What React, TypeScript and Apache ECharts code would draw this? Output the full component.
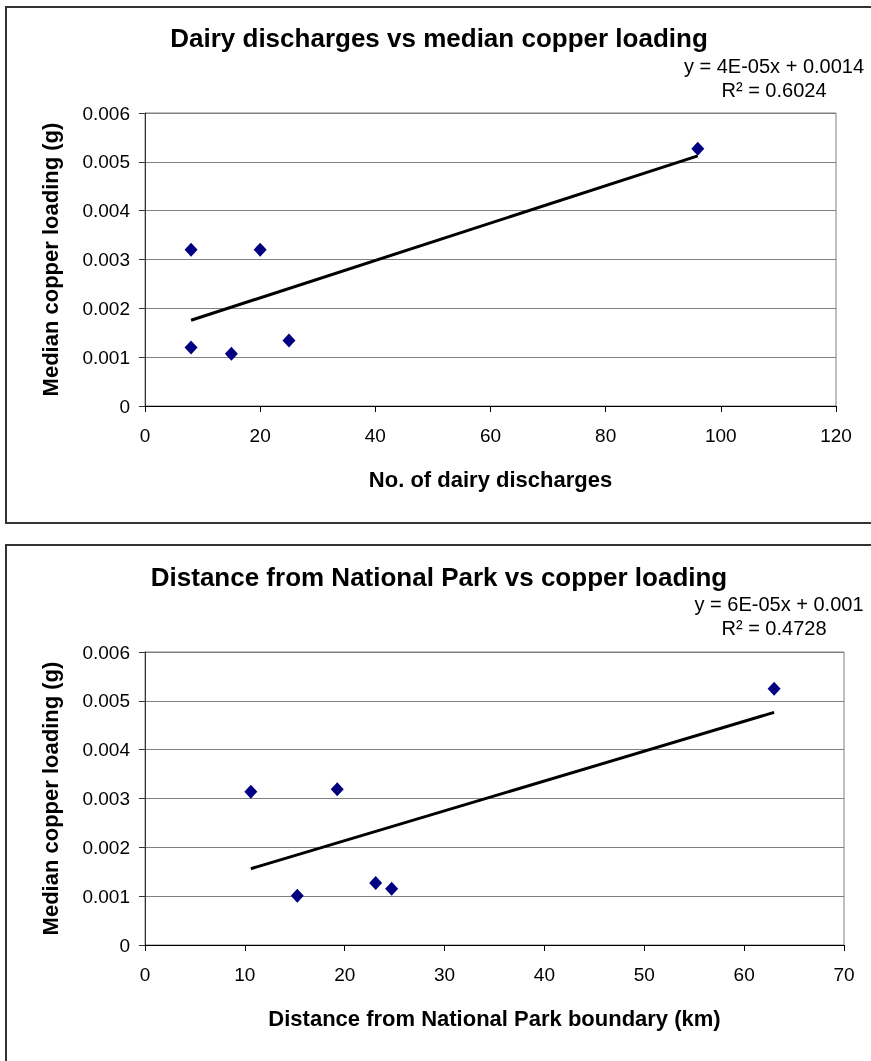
import React, { useEffect, useRef } from "react";
import * as echarts from "echarts";

// ---- Data ----
const dairyDischarges = [8, 8, 15, 20, 25, 96];
const dairyCopper = [0.0032, 0.0012, 0.00107, 0.0032, 0.00134, 0.00527];

const parkDistance = [10.6, 15.25, 19.25, 23.1, 24.7, 63];
const parkCopper = [0.00314, 0.00101, 0.00319, 0.00127, 0.00115, 0.00525];

const topTitle = "Dairy discharges vs median copper loading";
const topEquation = "y = 4E-05x + 0.0014";
const topR2 = "R² = 0.6024";
const topXName = "No. of dairy discharges";

const bottomTitle = "Distance from National Park vs copper loading";
const bottomEquation = "y = 6E-05x + 0.001";
const bottomR2 = "R² = 0.4728";
const bottomXName = "Distance from National Park boundary (km)";

const yName = "Median copper loading (g)";

// least-squares trendline (Excel "linear trendline") across the data range
function trend(xs: number[], ys: number[]) {
  const n = xs.length;
  const mx = xs.reduce((a, b) => a + b, 0) / n;
  const my = ys.reduce((a, b) => a + b, 0) / n;
  let sxy = 0;
  let sxx = 0;
  for (let i = 0; i < n; i++) {
    sxy += (xs[i] - mx) * (ys[i] - my);
    sxx += (xs[i] - mx) * (xs[i] - mx);
  }
  const slope = sxy / sxx;
  const icpt = my - slope * mx;
  const x0 = Math.min(...xs);
  const x1 = Math.max(...xs);
  return [
    [x0, icpt + slope * x0],
    [x1, icpt + slope * x1],
  ];
}

const FONT = "'Liberation Sans', Arial, sans-serif";

export default function App() {
  const ref = useRef<HTMLDivElement>(null);

  useEffect(() => {
    if (!ref.current) return;
    const chart = echarts.init(ref.current, undefined, { renderer: "svg" });

    const yFmt = (v: number) => (v === 0 ? "0" : v.toFixed(3));

    const makeX = (gi: number, max: number, interval: number, name: string) => ({
      gridIndex: gi,
      type: "value",
      min: 0,
      max,
      interval,
      name,
      nameLocation: "middle",
      nameGap: 62,
      nameTextStyle: { fontSize: 22, fontWeight: "bold", color: "#000", fontFamily: FONT },
      axisLine: { show: true, onZero: false, lineStyle: { color: "#000", width: 1 } },
      axisTick: { show: true, length: 6, lineStyle: { color: "#000" } },
      axisLabel: { fontSize: 19, color: "#000", margin: 20, fontFamily: FONT },
      splitLine: { show: false },
    });

    const makeY = (gi: number) => ({
      gridIndex: gi,
      type: "value",
      min: 0,
      max: 0.006,
      interval: 0.001,
      name: yName,
      nameLocation: "middle",
      nameGap: 84,
      nameRotate: 90,
      nameTextStyle: { fontSize: 22, fontWeight: "bold", color: "#000", fontFamily: FONT },
      axisLine: { show: true, lineStyle: { color: "#333", width: 1 } },
      axisTick: { show: true, length: 6, lineStyle: { color: "#333" } },
      axisLabel: { fontSize: 19, color: "#000", margin: 15, formatter: yFmt, fontFamily: FONT },
      splitLine: { show: true, lineStyle: { color: "#808080", width: 1 } },
    });

    const scatter = (i: number, xs: number[], ys: number[]) => ({
      type: "scatter",
      xAxisIndex: i,
      yAxisIndex: i,
      symbol: "diamond",
      symbolSize: [13, 14],
      itemStyle: { color: "#000080", opacity: 1 },
      data: xs.map((x, k) => [x, ys[k]]),
      z: 3,
    });

    const trendLine = (i: number, xs: number[], ys: number[]) => ({
      type: "line",
      xAxisIndex: i,
      yAxisIndex: i,
      showSymbol: false,
      symbol: "none",
      lineStyle: { color: "#000", width: 3 },
      data: trend(xs, ys),
      z: 4,
    });

    const text = (x: number, y: number, t: string, size: number, bold: boolean) => ({
      type: "text",
      x,
      y,
      style: {
        text: t,
        fontSize: size,
        fontWeight: bold ? "bold" : "normal",
        fontFamily: FONT,
        fill: "#000",
        textAlign: "center",
        textVerticalAlign: "middle",
      },
    });

    chart.setOption({
      animation: false,
      textStyle: { fontFamily: FONT },
      grid: [
        { left: 145, top: 113, right: 35, height: 293, show: true, borderColor: "#808080", borderWidth: 1 },
        { left: 145, top: 652, right: 27, height: 293, show: true, borderColor: "#808080", borderWidth: 1 },
      ],
      xAxis: [makeX(0, 120, 20, topXName), makeX(1, 70, 10, bottomXName)],
      yAxis: [makeY(0), makeY(1)],
      series: [
        scatter(0, dairyDischarges, dairyCopper),
        trendLine(0, dairyDischarges, dairyCopper),
        scatter(1, parkDistance, parkCopper),
        trendLine(1, parkDistance, parkCopper),
      ],
      graphic: [
        {
          type: "rect",
          shape: { x: 6, y: 7, width: 900, height: 516 },
          style: { fill: "none", stroke: "#333", lineWidth: 2 },
        },
        {
          type: "rect",
          shape: { x: 6, y: 545, width: 900, height: 540 },
          style: { fill: "none", stroke: "#333", lineWidth: 2 },
        },
        text(439, 38, topTitle, 26, true),
        text(774, 66, topEquation, 20, false),
        text(774, 90, topR2, 20, false),
        text(439, 577, bottomTitle, 26, true),
        text(779, 604, bottomEquation, 20, false),
        text(774, 628, bottomR2, 20, false),
      ],
    });

    return () => chart.dispose();
  }, []);

  return (
    <div
      ref={ref}
      style={{ position: "fixed", left: 0, top: 0, width: 871, height: 1061 }}
    />
  );
}
